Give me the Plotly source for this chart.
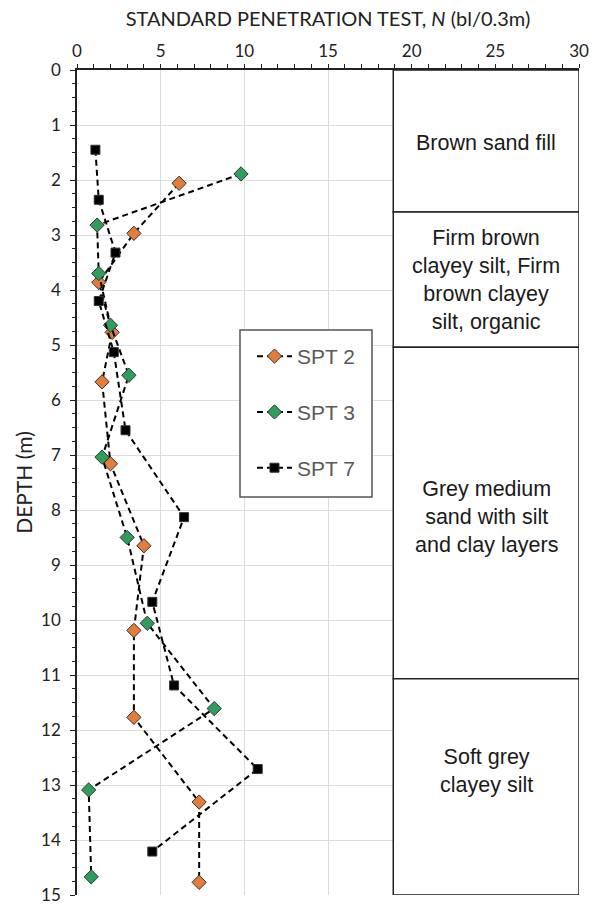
import plotly.graph_objects as go

# ---- data ----
n_spt2 = [6.1, 3.4, 1.3, 2.1, 1.5, 2.0, 4.0, 3.4, 3.4, 7.3, 7.3]
depth_spt2 = [2.06, 2.97, 3.86, 4.77, 5.67, 7.16, 8.65, 10.19, 11.77, 13.31, 14.77]

n_spt3 = [9.8, 1.2, 1.3, 2.0, 3.1, 1.5, 3.0, 4.2, 8.2, 0.7, 0.85]
depth_spt3 = [1.89, 2.82, 3.70, 4.64, 5.55, 7.04, 8.50, 10.06, 11.61, 13.09, 14.67]

n_spt7 = [1.1, 1.3, 2.3, 1.3, 2.2, 2.9, 6.4, 4.5, 5.8, 10.8, 4.5]
depth_spt7 = [1.45, 2.36, 3.32, 4.20, 5.13, 6.55, 8.13, 9.67, 11.19, 12.71, 14.21]

layer_tops = [0, 2.58, 5.04, 11.07]
layer_bottoms = [2.58, 5.04, 11.07, 15]
layer_labels = ["Brown sand fill",
                "Firm brown<br>clayey silt, Firm<br>brown clayey<br>silt, organic",
                "Grey medium<br>sand with silt<br>and clay layers",
                "Soft grey<br>clayey silt"]
layer_label_depths = [1.33, 3.82, 8.12, 12.74]
layer_n_left = 18.9
layer_n_right = 30

fig = go.Figure()

series = [
    ("SPT 2", n_spt2, depth_spt2, "diamond", "#E57D3A", 11),
    ("SPT 3", n_spt3, depth_spt3, "diamond", "#2E9E5E", 11),
    ("SPT 7", n_spt7, depth_spt7, "square", "#000000", 9),
]
for name, xs, ys, sym, col, sz in series:
    fig.add_trace(go.Scatter(
        x=xs, y=ys, name=name, mode="lines+markers", legendgroup=name,
        line=dict(color="black", width=2, dash="6px,4px"),
        marker=dict(symbol=sym, size=sz, color=col,
                    line=dict(color="#333333", width=1)),
    ))

for t, b in zip(layer_tops, layer_bottoms):
    fig.add_shape(type="rect", xref="x", yref="y",
                  x0=layer_n_left, x1=layer_n_right, y0=t, y1=b,
                  fillcolor="white", line=dict(color="#222222", width=1.5),
                  layer="above")

for lab, d in zip(layer_labels, layer_label_depths):
    fig.add_annotation(x=(layer_n_left + layer_n_right) / 2, y=d, xref="x", yref="y",
                       text=lab, showarrow=False,
                       font=dict(family="Liberation Sans, Arial", size=21.5, color="#1a1a1a"))

# legend frame
fig.add_shape(type="rect", xref="paper", yref="paper",
              x0=0.3247, x1=0.5876, y0=0.4824, y1=0.6848,
              fillcolor="white", line=dict(color="#555555", width=1.5), layer="above")

fig.update_xaxes(
    side="top", range=[0, 30], dtick=5, tick0=0,
    showgrid=True, gridcolor="#dcdcdc", gridwidth=1,
    showline=True, linecolor="#222222", linewidth=1.5,
    ticks="outside", ticklen=4, tickcolor="#222222",
    minor=dict(dtick=1, ticks="outside", ticklen=4, tickcolor="#222222", showgrid=False),
    tickfont=dict(family="Lato", size=17, color="#222222"),
    title=dict(text="STANDARD PENETRATION TEST, <i>N</i> (bl/0.3m)",
               font=dict(family="Lato", size=20, color="#222222"), standoff=8),
    zeroline=False, automargin=False,
)
fig.update_yaxes(
    range=[15, 0], dtick=1, tick0=0,
    showgrid=True, gridcolor="#dcdcdc", gridwidth=1,
    showline=True, linecolor="#222222", linewidth=1.5,
    ticks="outside", ticklen=5, tickcolor="#222222",
    minor=dict(dtick=0.25, ticks="outside", ticklen=3, tickcolor="#222222", showgrid=False),
    tickfont=dict(family="Lato", size=17, color="#222222"),
    ticklabelstandoff=6,
    title=dict(text="DEPTH (m)", font=dict(family="Lato", size=21, color="#222222"), standoff=3),
    zeroline=False, automargin=False,
)

fig.update_layout(
    width=604, height=905,
    margin=dict(l=77, r=25, t=70, b=10),
    paper_bgcolor="white", plot_bgcolor="white",
    showlegend=True,
    legend=dict(x=0.3486, y=0.6776, xanchor="left", yanchor="top",
                bgcolor="rgba(0,0,0,0)", borderwidth=0,
                font=dict(family="Liberation Sans, Arial", size=21, color="#595959"),
                traceorder="grouped", tracegroupgap=25.5, itemwidth=35,
                ),
)

fig.write_html("out.html")
